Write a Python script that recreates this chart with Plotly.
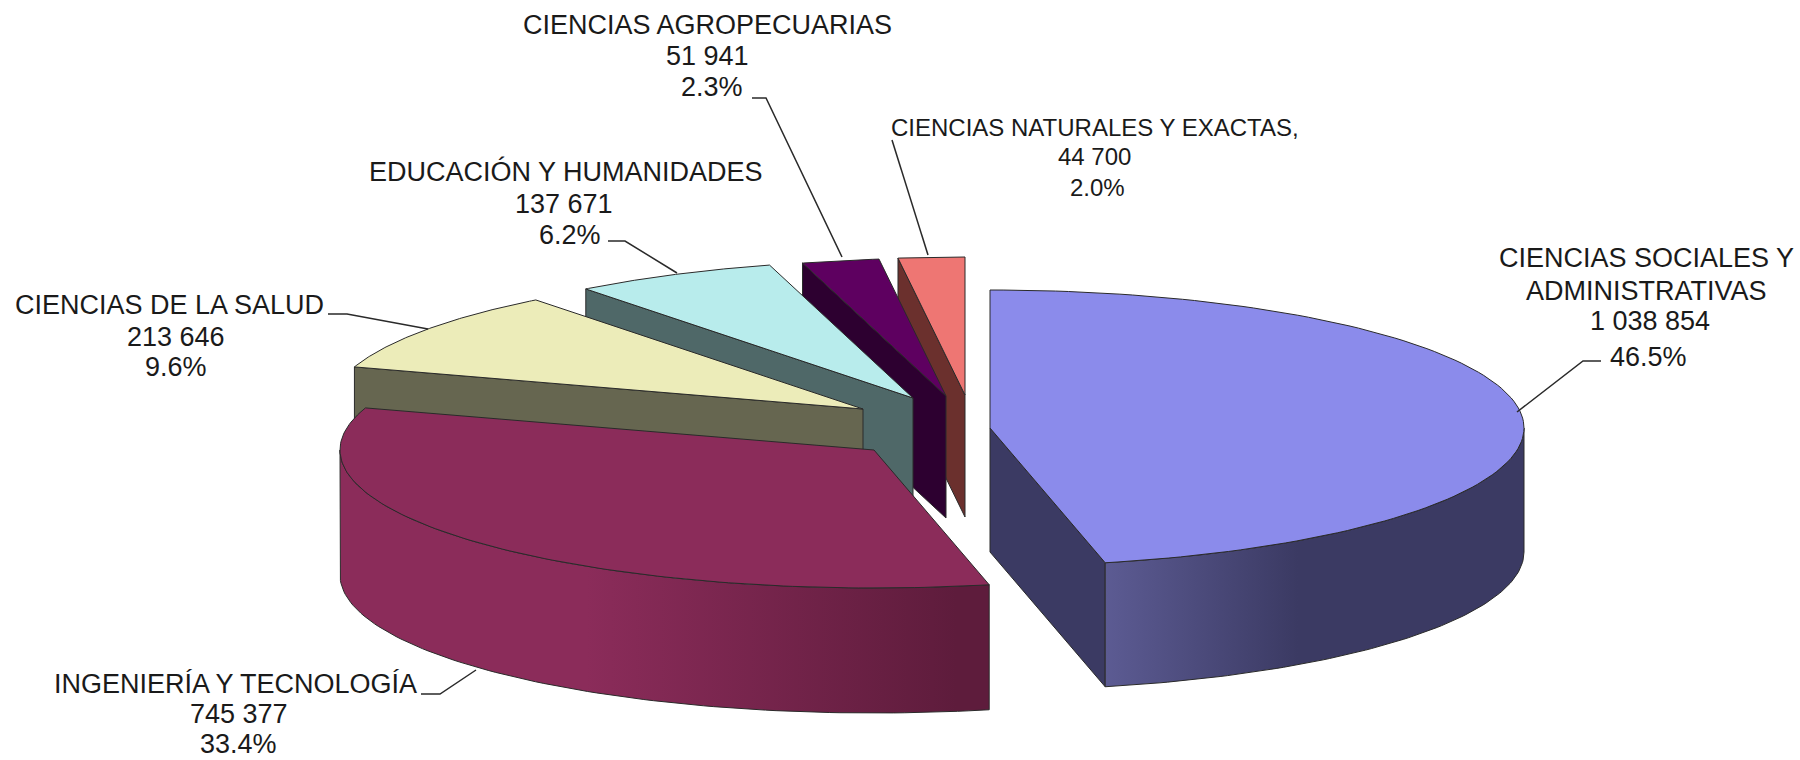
import numpy as np
import plotly.graph_objects as go

# ---- data, in chart order (clockwise from 12 o'clock) ----
CATEGORIES = ["CIENCIAS SOCIALES Y ADMINISTRATIVAS", "INGENIERÍA Y TECNOLOGÍA", "CIENCIAS DE LA SALUD",
              "EDUCACIÓN Y HUMANIDADES", "CIENCIAS AGROPECUARIAS", "CIENCIAS NATURALES Y EXACTAS,"]
VALUES = [1038854, 745377, 213646, 137671, 51941, 44700]
LABEL_LINES = [["CIENCIAS SOCIALES Y", "ADMINISTRATIVAS"], ["INGENIERÍA Y TECNOLOGÍA"], ["CIENCIAS DE LA SALUD"],
               ["EDUCACIÓN Y HUMANIDADES"], ["CIENCIAS AGROPECUARIAS"], ["CIENCIAS NATURALES Y EXACTAS,"]]

# ---- styling and layout ----
TOP = ["#8B8BEB", "#8B2C5A", "#ECECB9", "#B8ECEC", "#5E0060", "#EE7673"]
CUT = ["#3B3A63", "#5E1C3C", "#666650", "#4F6868", "#2D0030", "#6B302D"]
WALL_SCALE = [
    [[0, "#5C5B93"], [0.46, "#3B3A63"], [1, "#3B3A63"]],
    [[0, "#8B2C5A"], [0.38, "#8B2C5A"], [0.95, "#5E1C3C"], [1, "#5E1C3C"]],
    None, None, None, None,
]
APEX_X = [990, 874, 863, 913, 946, 965]
APEX_Y = [428, 450, 409, 398, 396, 395]
DEPTH = [124, 125, 125, 125, 122, 122]
RX, RY = 534, 138
EDGE = "#2a2a2a"
FONT = "Liberation Sans"
TEXT = "#1a1a1a"
# per label: font size, y of each line, x-centre of each line
LABEL_SIZE = [27, 27, 27, 27, 27, 24]
LABEL_Y = [[258, 291, 321, 357], [684, 714, 744], [305, 337, 367], [171, 204, 235], [25, 56, 87], [127, 156, 187]]
LABEL_X = [[1646, 1646, 1650, 1648], [235, 239, 238], [169, 176, 176], [566, 564, 570], [707, 707, 712], [1095, 1094, 1097]]
LEADER_X = [[1517, 1583, 1601], [476, 440, 421], [428, 347, 328], [677, 625, 608], [842, 766, 752], [928, 892]]
LEADER_Y = [[412, 361, 361], [670, 694, 694], [329, 314, 314], [273, 241, 241], [257, 98, 98], [255, 140]]

total = sum(VALUES)
shares = [v / total for v in VALUES]
edges = np.concatenate([[0], np.cumsum(shares) * 360])


def pt(cx, cy, deg):
    a = np.radians(deg)
    return cx + RX * np.sin(a), cy - RY * np.cos(a)


def poly(x, y, color, gradient=None):
    kw = dict(x=list(x) + [x[0]], y=list(y) + [y[0]], mode="lines", fill="toself",
              line=dict(color=EDGE, width=1),
              hoverinfo="skip", showlegend=False)
    if gradient:
        kw["fillgradient"] = gradient
    else:
        kw["fillcolor"] = color
    return go.Scatter(**kw)


fig = go.Figure()

for i in range(len(VALUES) - 1, -1, -1):
    start, end = edges[i], edges[i + 1]
    cx, cy, depth = APEX_X[i], APEX_Y[i], DEPTH[i]
    # radial cut walls facing the viewer
    for ang, normal in ((start, start - 90), (end, end + 90)):
        if np.cos(np.radians(normal)) < -1e-6:
            ex, ey = pt(cx, cy, ang)
            fig.add_trace(poly([cx, ex, ex, cx], [cy, ey, ey + depth, cy + depth], CUT[i]))
    # outer curved wall, visible only on the front half
    a0, a1 = max(start, 90), min(end, 270)
    if a1 > a0:
        t = np.linspace(a0, a1, 90)
        ax, ay = pt(cx, cy, t)
        px = np.concatenate([ax, ax[::-1]])
        py = np.concatenate([ay, ay[::-1] + depth])
        grad = dict(type="horizontal", colorscale=WALL_SCALE[i],
                    start=float(px.min()), stop=float(px.max()))
        fig.add_trace(poly(px, py, CUT[i], gradient=grad))
    # top face
    t = np.linspace(start, end, 120)
    ax, ay = pt(cx, cy, t)
    fig.add_trace(poly(np.r_[cx, ax], np.r_[cy, ay], TOP[i]))

# leader lines
for lx, ly in zip(LEADER_X, LEADER_Y):
    fig.add_trace(go.Scatter(x=lx, y=ly, mode="lines", line=dict(color="#2a2a2a", width=1.5),
                             hoverinfo="skip", showlegend=False))

# labels
for i, v in enumerate(VALUES):
    lines = LABEL_LINES[i] + [f"{v:,}".replace(",", " "), f"{shares[i] * 100:.1f}%"]
    for txt, lx, ly in zip(lines, LABEL_X[i], LABEL_Y[i]):
        fig.add_annotation(x=lx, y=ly, text=txt, showarrow=False, xanchor="center", yanchor="middle",
                           font=dict(family=FONT, size=LABEL_SIZE[i], color=TEXT))

fig.update_layout(
    width=1800, height=760, margin=dict(l=0, r=0, t=0, b=0),
    paper_bgcolor="white", plot_bgcolor="white", showlegend=False,
    xaxis=dict(range=[0, 1800], visible=False, fixedrange=True),
    yaxis=dict(range=[760, 0], visible=False, fixedrange=True),
)
fig.write_html("out.html", config={"displayModeBar": False},
               post_script="document.body.style.margin='0';")
